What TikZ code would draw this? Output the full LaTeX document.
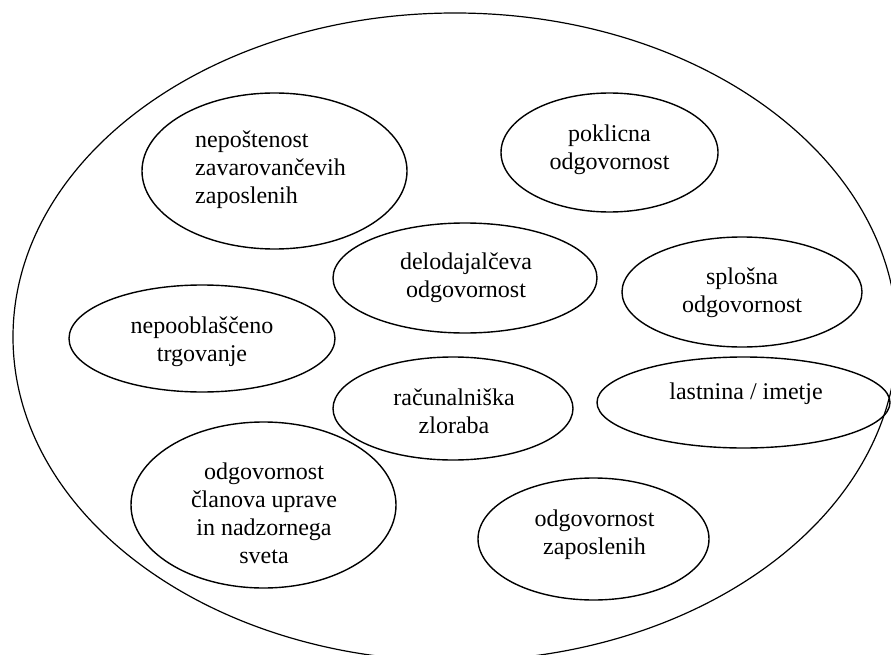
\documentclass[tikz,border=0pt]{standalone}
\usepackage{fontspec}
\setmainfont{Liberation Serif}
\usetikzlibrary{shapes.geometric}
\tikzset{
  oval/.style={draw, ellipse, line width=1.4pt, inner sep=0pt},
  bigoval/.style={draw, ellipse, line width=1.2pt, inner sep=0pt},
  lbl/.style={inner sep=0pt, font=\fontsize{24}{28}\selectfont},
}
\begin{document}
\begin{tikzpicture}[x=1pt,y=-1pt]
\useasboundingbox (0,0) rectangle (891,655);
\clip (0,0) rectangle (891,655);
\node[bigoval, minimum width=884pt, minimum height=648pt] (outer) at (455,337) {};
% ellipses
\node[oval, minimum width=265pt, minimum height=156pt] (e1) at (274.5,171) {};
\node[oval, minimum width=217pt, minimum height=119pt] (e2) at (609.5,152.5) {};
\node[oval, minimum width=264pt, minimum height=110pt] (e3) at (465,278) {};
\node[oval, minimum width=240pt, minimum height=110pt] (e4) at (742,292) {};
\node[oval, minimum width=266pt, minimum height=107pt] (e5) at (202,338.5) {};
\node[oval, minimum width=240pt, minimum height=103pt] (e6) at (453,408.5) {};
\node[oval, minimum width=293pt, minimum height=91pt] (e7) at (743.5,402.5) {};
\node[oval, minimum width=265pt, minimum height=166pt] (e8) at (263.5,505) {};
\node[oval, minimum width=231pt, minimum height=122pt] (e9) at (593.5,539) {};
% labels
\node[lbl, anchor=west, align=left] (t1) at (195,169.8) {nepoštenost\\zavarovančevih\\zaposlenih};
\node[lbl, align=center] (t2) at (609.5,149.5) {poklicna\\odgovornost};
\node[lbl, align=center] (t3) at (466,277.5) {delodajalčeva\\odgovornost};
\node[lbl, align=center] (t4) at (742,292.5) {splošna\\odgovornost};
\node[lbl, align=center] (t5) at (202,341.5) {nepooblaščeno\\trgovanje};
\node[lbl, align=center] (t6) at (454,411.5) {računalniška\\zloraba};
\node[lbl, align=center] (t7) at (746,394) {lastnina / imetje};
\node[lbl, align=center] (t8) at (264,512.8) {odgovornost\\članova uprave\\in nadzornega\\sveta};
\node[lbl, align=center] (t9) at (594.5,534.5) {odgovornost\\zaposlenih};
\end{tikzpicture}
\end{document}
